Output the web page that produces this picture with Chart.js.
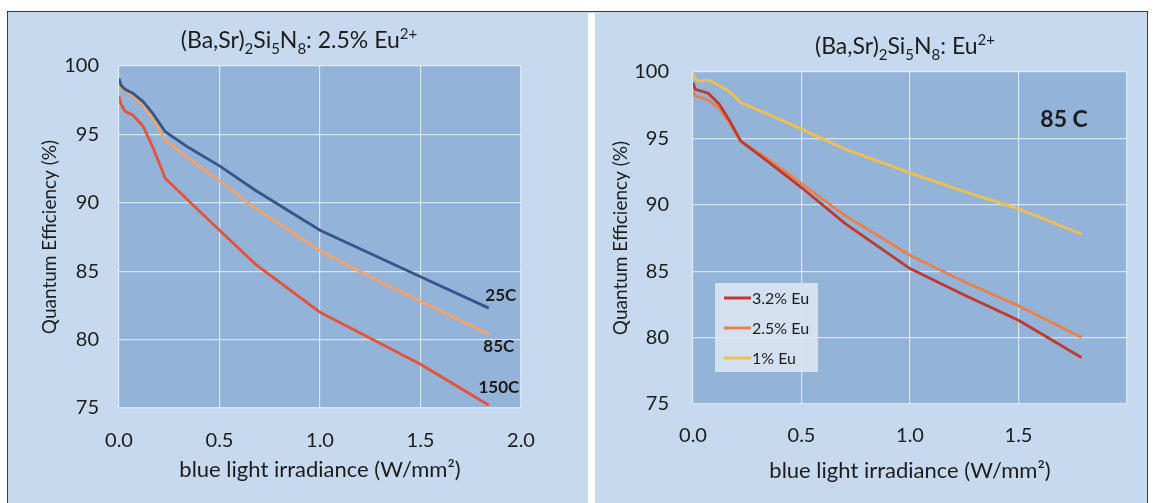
<!DOCTYPE html>
<html>
<head>
<meta charset="utf-8">
<script src="https://cdn.jsdelivr.net/npm/chart.js@4/dist/chart.umd.min.js"></script>
<style>
  html, body { margin: 0; padding: 0; background: #ffffff; }
  body { width: 1156px; height: 503px; position: relative; overflow: hidden; }
  #frame {
    position: absolute; left: 7px; top: 11px; width: 1141px; height: 500px;
    box-sizing: border-box; border: 1.5px solid #3c3c3c; background: #c6d9ee;
  }
  #gap { position: absolute; left: 588px; top: 12.5px; width: 7px; height: 495px; background: #ffffff; }
  .panel { position: absolute; top: 12px; }
  #p1 { left: 8px; }
  #p2 { left: 595px; }
  canvas { display: block; }
</style>
</head>
<body>
<div id="frame"></div>
<div id="gap"></div>
<div class="panel" id="p1"><canvas id="tempChart" width="580" height="491"></canvas></div>
<div class="panel" id="p2"><canvas id="euChart" width="552" height="491"></canvas></div>

<script>
// ---- Temperature series, 2.5% Eu ----
const irradianceTemp = [0, 0.01, 0.03, 0.07, 0.12, 0.17, 0.23, 0.35, 0.5, 0.68, 1.0, 1.25, 1.5, 1.84];
const qe25C  = [99.1, 98.6, 98.3, 98.0, 97.4, 96.5, 95.2, 94.0, 92.7, 90.9, 88.0, 86.3, 84.6, 82.3];
const qe85C  = [98.8, 98.4, 98.2, 97.8, 97.1, 96.1, 94.6, 93.2, 91.6, 89.6, 86.5, 84.6, 82.8, 80.4];
const qe150C = [97.8, 97.2, 96.7, 96.4, 95.6, 94.0, 91.8, 90.1, 88.0, 85.5, 82.0, 80.1, 78.2, 75.2];
const tempLabels = ['25C', '85C', '150C'];

// ---- Eu concentration series at 85 C ----
const irradianceEu = [0, 0.01, 0.03, 0.07, 0.12, 0.17, 0.22, 0.35, 0.5, 0.7, 1.0, 1.25, 1.5, 1.79];
const qeEu32 = [99.2, 98.7, 98.6, 98.4, 97.6, 96.3, 94.8, 93.2, 91.3, 88.6, 85.2, 83.2, 81.3, 78.5];
const qeEu25 = [98.5, 98.2, 98.1, 97.9, 97.3, 96.1, 94.8, 93.4, 91.6, 89.2, 86.2, 84.2, 82.4, 80.0];
const qeEu10 = [99.9, 99.5, 99.3, 99.4, 99.0, 98.5, 97.7, 96.8, 95.7, 94.2, 92.4, 91.0, 89.7, 87.8];
const euLabels = ['3.2% Eu', '2.5% Eu', '1% Eu'];

// ---- Axes ----
const yTickValues = [75, 80, 85, 90, 95, 100];
const xTickValuesTemp = [0, 0.5, 1.0, 1.5, 2.0];
const xTickValuesEu = [0, 0.5, 1.0, 1.5, 2.0];
const xTickHiddenEu = [2.0];
const xAxisTitle = 'blue light irradiance (W/mm\u00B2)';
const yAxisTitle = 'Quantum Efficiency (%)';
const noteEu = '85 C';

// Title text runs: plain, subscript and superscript pieces
const titleTempRuns = [
  { t: '(Ba,Sr)' }, { t: '2', s: 'sub' }, { t: 'Si' }, { t: '5', s: 'sub' },
  { t: 'N' }, { t: '8', s: 'sub' }, { t: ': 2.5% Eu' }, { t: '2+', s: 'sup' }
];
const titleEuRuns = [
  { t: '(Ba,Sr)' }, { t: '2', s: 'sub' }, { t: 'Si' }, { t: '5', s: 'sub' },
  { t: 'N' }, { t: '8', s: 'sub' }, { t: ': Eu' }, { t: '2+', s: 'sup' }
];

const FONT = 'Lato, "Open Sans", sans-serif';
const TEXT = '#1c1c1c';
const PLOT_FILL = '#93b3d8';
const GRID = 'rgba(232,240,250,0.8)';

const pairs = (xs, ys) => xs.map((x, i) => ({ x, y: ys[i] }));

// Fill behind the plotting area
const plotBackground = {
  id: 'plotBackground',
  beforeDraw(chart, args, opts) {
    const { ctx, chartArea: { left, top, width, height } } = chart;
    ctx.save();
    ctx.fillStyle = opts.color;
    ctx.fillRect(left, top, width, height);
    ctx.restore();
  }
};

// Centered title with sub/superscripts
const richTitle = {
  id: 'richTitle',
  afterDraw(chart, args, opts) {
    const ctx = chart.ctx;
    const size = opts.size;
    const fontFor = r => (r.s ? Math.round(size * 0.64) : size) + 'px ' + FONT;
    ctx.save();
    ctx.textBaseline = 'alphabetic';
    ctx.textAlign = 'left';
    let total = 0;
    opts.runs.forEach(r => { ctx.font = fontFor(r); total += ctx.measureText(r.t).width; });
    let x = opts.x - total / 2;
    const base = opts.y + size * 0.36;
    ctx.fillStyle = TEXT;
    opts.runs.forEach(r => {
      ctx.font = fontFor(r);
      const dy = r.s === 'sub' ? size * 0.24 : (r.s === 'sup' ? -size * 0.42 : 0);
      ctx.fillText(r.t, x, base + dy);
      x += ctx.measureText(r.t).width;
    });
    ctx.restore();
  }
};

// Series names written next to the end of each line
const endLabels = {
  id: 'endLabels',
  afterDatasetsDraw(chart, args, opts) {
    if (!opts.offsets) return;
    const ctx = chart.ctx;
    ctx.save();
    ctx.font = opts.font;
    ctx.fillStyle = TEXT;
    ctx.textAlign = 'center';
    ctx.textBaseline = 'middle';
    chart.data.datasets.forEach((ds, i) => {
      const meta = chart.getDatasetMeta(i);
      const last = meta.data[meta.data.length - 1];
      const [dx, dy] = opts.offsets[i];
      ctx.fillText(ds.label, last.x + dx, last.y + dy);
    });
    ctx.restore();
  }
};

// Framed legend drawn inside the plot area
const boxLegend = {
  id: 'boxLegend',
  afterDatasetsDraw(chart, args, opts) {
    if (!opts.show) return;
    const { ctx, chartArea: { left, top } } = chart;
    const bx = left + opts.dx, by = top + opts.dy;
    ctx.save();
    ctx.fillStyle = opts.fill;
    ctx.fillRect(bx, by, opts.w, opts.h);
    ctx.font = opts.font;
    ctx.textAlign = 'left';
    ctx.textBaseline = 'middle';
    chart.data.datasets.forEach((ds, i) => {
      const y = by + opts.first + i * opts.step;
      ctx.strokeStyle = ds.borderColor;
      ctx.lineWidth = 3;
      ctx.beginPath();
      ctx.moveTo(bx + 9, y);
      ctx.lineTo(bx + 36, y);
      ctx.stroke();
      ctx.fillStyle = TEXT;
      ctx.fillText(ds.label, bx + 37, y + 1);
    });
    ctx.restore();
  }
};

// Bold note placed at a point of the plot
const plotNote = {
  id: 'plotNote',
  afterDatasetsDraw(chart, args, opts) {
    if (!opts.text) return;
    const { ctx, scales: { x, y } } = chart;
    ctx.save();
    ctx.font = opts.font;
    ctx.fillStyle = TEXT;
    ctx.textAlign = 'center';
    ctx.textBaseline = 'middle';
    ctx.fillText(opts.text, x.getPixelForValue(opts.x), y.getPixelForValue(opts.y));
    ctx.restore();
  }
};

function makeScales(cfg) {
  return {
    x: {
      type: 'linear', min: 0, max: 2,
      afterFit: s => { s.height = cfg.xHeight; },
      afterBuildTicks: s => { s.ticks = cfg.xTicks.map(v => ({ value: v })); },
      grid: { color: GRID, lineWidth: 1.2, drawTicks: false },
      border: { display: false },
      ticks: {
        padding: cfg.xTickPad, color: TEXT, font: { family: FONT, size: 20 },
        maxRotation: 0, autoSkip: false,
        callback: v => (cfg.xHidden.includes(v) ? '' : v.toFixed(1))
      },
      title: {
        display: true, text: xAxisTitle, color: TEXT,
        font: { family: FONT, size: 22 }, padding: { top: 0, bottom: cfg.xTitlePad }
      }
    },
    y: {
      type: 'linear', min: 75, max: 100,
      afterFit: s => { s.width = cfg.yWidth; },
      afterBuildTicks: s => { s.ticks = yTickValues.map(v => ({ value: v })); },
      grid: { color: GRID, lineWidth: 1.2, drawTicks: false },
      border: { display: false },
      ticks: { padding: cfg.yTickPad, color: TEXT, font: { family: FONT, size: 20 } },
      title: {
        display: true, text: yAxisTitle, color: TEXT,
        font: { family: FONT, size: 19 }, padding: { top: cfg.yTitlePad, bottom: 0 }
      }
    }
  };
}

const lineStyle = color => ({
  borderColor: color, backgroundColor: color, borderWidth: 2.8,
  pointRadius: 0, tension: 0, fill: false
});

new Chart(document.getElementById('tempChart'), {
  type: 'line',
  data: {
    datasets: [
      { label: tempLabels[0], data: pairs(irradianceTemp, qe25C),  ...lineStyle('#34568f') },
      { label: tempLabels[1], data: pairs(irradianceTemp, qe85C),  ...lineStyle('#f2a46c') },
      { label: tempLabels[2], data: pairs(irradianceTemp, qe150C), ...lineStyle('#e3553a') }
    ]
  },
  options: {
    responsive: false, animation: false, devicePixelRatio: 1,
    layout: { padding: { left: 0, right: 67, top: 54, bottom: 0 } },
    scales: makeScales({ xHeight: 95, yWidth: 111, xTickPad: 21, xTitlePad: 20, yTickPad: 20, yTitlePad: 30,
                         xTicks: xTickValuesTemp, xHidden: [] }),
    plugins: {
      legend: { display: false }, tooltip: { enabled: false },
      plotBackground: { color: PLOT_FILL },
      richTitle: { runs: titleTempRuns, size: 23, x: 291, y: 28 },
      endLabels: { font: 'bold 17px ' + FONT, offsets: [[12, -13], [10, 12], [10, -18]] },
      boxLegend: { show: false },
      plotNote: {}
    }
  },
  plugins: [plotBackground, richTitle, endLabels, boxLegend, plotNote]
});

new Chart(document.getElementById('euChart'), {
  type: 'line',
  data: {
    datasets: [
      { label: euLabels[0], data: pairs(irradianceEu, qeEu32), ...lineStyle('#be3a2e') },
      { label: euLabels[1], data: pairs(irradianceEu, qeEu25), ...lineStyle('#e8814b') },
      { label: euLabels[2], data: pairs(irradianceEu, qeEu10), ...lineStyle('#f2c050') }
    ]
  },
  options: {
    responsive: false, animation: false, devicePixelRatio: 1,
    layout: { padding: { left: 0, right: 18, top: 60, bottom: 0 } },
    scales: makeScales({ xHeight: 99, yWidth: 98, xTickPad: 20, xTitlePad: 19, yTickPad: 24, yTitlePad: 14,
                         xTicks: xTickValuesEu, xHidden: xTickHiddenEu }),
    plugins: {
      legend: { display: false }, tooltip: { enabled: false },
      plotBackground: { color: PLOT_FILL },
      richTitle: { runs: titleEuRuns, size: 23, x: 310, y: 34 },
      endLabels: {},
      boxLegend: { show: true, dx: 22, dy: 211, w: 103, h: 89, first: 15, step: 30,
                   fill: 'rgba(216,228,242,0.92)', font: '16px ' + FONT },
      plotNote: { text: noteEu, x: 1.71, y: 96.4, font: 'bold 23px ' + FONT }
    }
  },
  plugins: [plotBackground, richTitle, endLabels, boxLegend, plotNote]
});
</script>
</body>
</html>
